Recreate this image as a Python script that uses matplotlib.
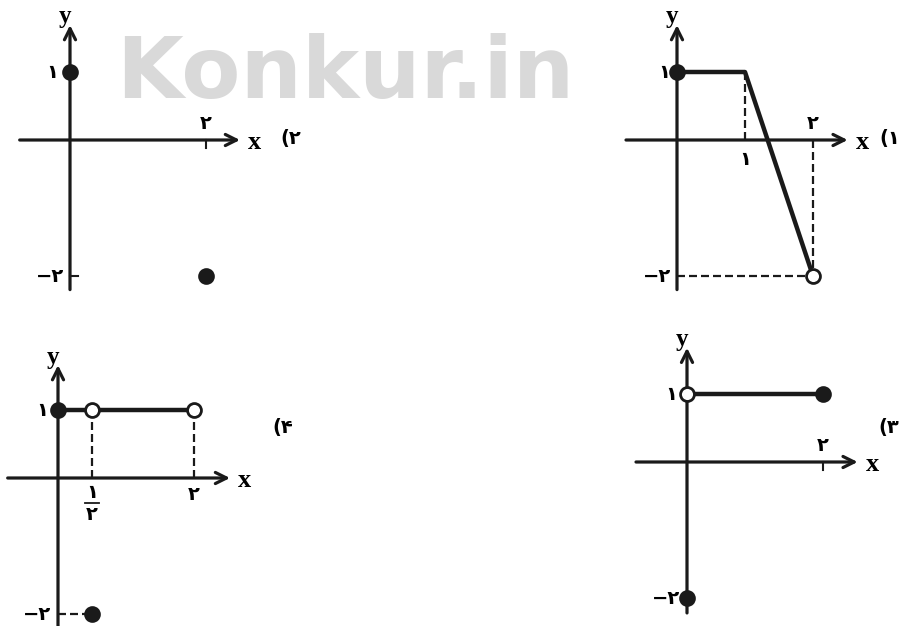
import matplotlib
matplotlib.use('Agg')
import matplotlib.pyplot as plt

# Panel data (x, y in graph units)
p1_line_x = [0, 1, 2]
p1_line_y = [1, 1, -2]
p1_filled_x = [0]
p1_filled_y = [1]
p1_open_x = [2]
p1_open_y = [-2]

p2_filled_x = [0, 2]
p2_filled_y = [1, -2]

p3_line_x = [0, 2]
p3_line_y = [1, 1]
p3_filled_x = [2, 0]
p3_filled_y = [1, -2]
p3_open_x = [0]
p3_open_y = [1]

p4_line_x = [0, 2]
p4_line_y = [1, 1]
p4_filled_x = [0, 0.5]
p4_filled_y = [1, -2]
p4_open_x = [0.5, 2]
p4_open_y = [1, 1]

W, H = 900, 626
S = 68.0  # pixels per unit

fig = plt.figure(figsize=(9, 6.26), dpi=100)
fig.patch.set_facecolor('white')

# Watermark
fig.text(345 / W, 1 - 98 / H, 'Konkur.in', color='#d9d9d9', fontsize=62,
         fontweight='bold', family='DejaVu Sans', ha='center', va='baseline')

SERIF = ['Liberation Serif', 'DejaVu Serif']
DIG = ['DejaVu Sans']
INK = '#1a1a1a'


def make_panel(ox, oy, xlim, ylim):
    left = (ox + xlim[0] * S) / W
    bottom = 1 - (oy - ylim[0] * S) / H
    width = (xlim[1] - xlim[0]) * S / W
    height = (ylim[1] - ylim[0]) * S / H
    ax = fig.add_axes([left, bottom, width, height])
    ax.set_xlim(xlim)
    ax.set_ylim(ylim)
    ax.axis('off')
    ax.patch.set_alpha(0)
    return ax


def draw_axes(ax, x0, x1, y0, y1):
    arrow = dict(arrowstyle='->,head_length=0.8,head_width=0.4', lw=2.3,
                 color=INK, shrinkA=0, shrinkB=0)
    ax.annotate('', xy=(x1, 0), xytext=(x0, 0), arrowprops=arrow)
    ax.annotate('', xy=(0, y1), xytext=(0, y0), arrowprops=arrow)
    ax.text(x1 + 0.12, -0.03, 'x', family=SERIF, fontweight='bold', fontsize=19,
            ha='left', va='center')
    ax.text(0.02, y1 - 0.05, 'y', family=SERIF, fontweight='bold', fontsize=18,
            ha='right', va='bottom')


def dots(ax, xs, ys, filled=True):
    ax.plot(xs, ys, 'o', ms=10, mew=2, color=INK,
            mfc=INK if filled else 'white', zorder=5, clip_on=False)


def dash(ax, xs, ys):
    ax.plot(xs, ys, '--', color=INK, lw=1.6, dashes=(3.6, 1.8), zorder=2)


def lab(ax, x, y, s, ha='center', va='center', size=14, weight='bold'):
    ax.text(x, y, s, family=DIG, fontweight=weight, fontsize=size, ha=ha, va=va)


lw_f = 3.2

# Panel 1 (top right)
ax1 = make_panel(677, 140, (-0.8, 3.3), (-2.3, 1.95))
draw_axes(ax1, -0.75, 2.51, -2.2, 1.69)
ax1.plot(p1_line_x, p1_line_y, color=INK, lw=lw_f, zorder=3)
dash(ax1, [1, 1], [1, 0])
dash(ax1, [2, 2], [0, -2])
dash(ax1, [0, 2], [-2, -2])
dots(ax1, p1_filled_x, p1_filled_y, True)
dots(ax1, p1_open_x, p1_open_y, False)
lab(ax1, -0.1, 1, '۱', ha='right')
lab(ax1, -0.08, -2, '−۲', ha='right')
lab(ax1, 1, -0.28, '۱')
lab(ax1, 2, 0.24, '۲')
lab(ax1, 3.28, 0.02, '(۱', ha='right')

# Panel 2 (top left)
ax2 = make_panel(70, 140, (-0.9, 3.5), (-2.3, 1.95))
draw_axes(ax2, -0.74, 2.5, -2.2, 1.69)
ax2.plot([2, 2], [0, -0.12], color=INK, lw=1.5)
ax2.plot([0, 0.12], [-2, -2], color=INK, lw=1.5)
dots(ax2, p2_filled_x, p2_filled_y, True)
lab(ax2, -0.18, 1, '۱', ha='right')
lab(ax2, -0.08, -2, '−۲', ha='right')
lab(ax2, 2, 0.24, '۲')
lab(ax2, 3.24, 0.02, '(۲')

# Panel 3 (bottom right)
ax3 = make_panel(687, 462, (-0.8, 3.13), (-2.35, 1.95))
draw_axes(ax3, -0.75, 2.51, -2.22, 1.68)
ax3.plot(p3_line_x, p3_line_y, color=INK, lw=lw_f, zorder=3)
ax3.plot([2, 2], [0, -0.12], color=INK, lw=1.5)
dots(ax3, p3_filled_x, p3_filled_y, True)
dots(ax3, p3_open_x, p3_open_y, False)
lab(ax3, -0.15, 1, '۱', ha='right')
lab(ax3, -0.1, -2, '−۲', ha='right')
lab(ax3, 2, 0.24, '۲')
lab(ax3, 3.12, 0.51, '(۳', ha='right')

# Panel 4 (bottom left)
ax4 = make_panel(58, 478, (-0.8, 3.6), (-2.2, 1.95))
draw_axes(ax4, -0.74, 2.53, -2.3, 1.66)
ax4.plot(p4_line_x, p4_line_y, color=INK, lw=lw_f, zorder=3)
dash(ax4, [0.5, 0.5], [1, 0])
dash(ax4, [2, 2], [1, 0])
dash(ax4, [0, 0.5], [-2, -2])
dots(ax4, p4_filled_x, p4_filled_y, True)
dots(ax4, p4_open_x, p4_open_y, False)
lab(ax4, -0.15, 1, '۱', ha='right')
lab(ax4, -0.1, -2, '−۲', ha='right')
lab(ax4, 0.5, -0.22, '۱')
ax4.plot([0.4, 0.6], [-0.37, -0.37], color=INK, lw=1.3)
lab(ax4, 0.5, -0.54, '۲')
lab(ax4, 2, -0.25, '۲')
lab(ax4, 3.31, 0.75, '(۴')

fig.savefig('out.png', dpi=100, facecolor='white')
